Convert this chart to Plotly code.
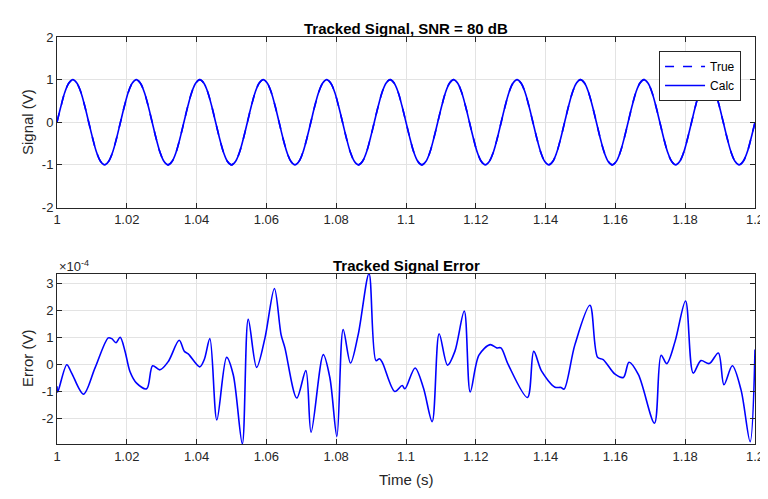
import plotly.graph_objects as go

# ---------------- data ----------------
# Tracked signal, read at sixteenth-period points off the picture (one row per period)
t_sig = [
    1.00000, 1.00114, 1.00227, 1.00341, 1.00455, 1.00568, 1.00682, 1.00795, 1.00909, 1.01023, 1.01136, 1.01250, 1.01364, 1.01477, 1.01591, 1.01705,
    1.01818, 1.01932, 1.02045, 1.02159, 1.02273, 1.02386, 1.02500, 1.02614, 1.02727, 1.02841, 1.02955, 1.03068, 1.03182, 1.03295, 1.03409, 1.03523,
    1.03636, 1.03750, 1.03864, 1.03977, 1.04091, 1.04205, 1.04318, 1.04432, 1.04545, 1.04659, 1.04773, 1.04886, 1.05000, 1.05114, 1.05227, 1.05341,
    1.05455, 1.05568, 1.05682, 1.05795, 1.05909, 1.06023, 1.06136, 1.06250, 1.06364, 1.06477, 1.06591, 1.06705, 1.06818, 1.06932, 1.07045, 1.07159,
    1.07273, 1.07386, 1.07500, 1.07614, 1.07727, 1.07841, 1.07955, 1.08068, 1.08182, 1.08295, 1.08409, 1.08523, 1.08636, 1.08750, 1.08864, 1.08977,
    1.09091, 1.09205, 1.09318, 1.09432, 1.09545, 1.09659, 1.09773, 1.09886, 1.10000, 1.10114, 1.10227, 1.10341, 1.10455, 1.10568, 1.10682, 1.10795,
    1.10909, 1.11023, 1.11136, 1.11250, 1.11364, 1.11477, 1.11591, 1.11705, 1.11818, 1.11932, 1.12045, 1.12159, 1.12273, 1.12386, 1.12500, 1.12614,
    1.12727, 1.12841, 1.12955, 1.13068, 1.13182, 1.13295, 1.13409, 1.13523, 1.13636, 1.13750, 1.13864, 1.13977, 1.14091, 1.14205, 1.14318, 1.14432,
    1.14545, 1.14659, 1.14773, 1.14886, 1.15000, 1.15114, 1.15227, 1.15341, 1.15455, 1.15568, 1.15682, 1.15795, 1.15909, 1.16023, 1.16136, 1.16250,
    1.16364, 1.16477, 1.16591, 1.16705, 1.16818, 1.16932, 1.17045, 1.17159, 1.17273, 1.17386, 1.17500, 1.17614, 1.17727, 1.17841, 1.17955, 1.18068,
    1.18182, 1.18295, 1.18409, 1.18523, 1.18636, 1.18750, 1.18864, 1.18977, 1.19091, 1.19205, 1.19318, 1.19432, 1.19545, 1.19659, 1.19773, 1.19886,
    1.20000]
sig_calc = [
    0, 0.38, 0.71, 0.92, 1, 0.92, 0.71, 0.38, 0, -0.38, -0.71, -0.92, -1, -0.92, -0.71, -0.38,
    0, 0.38, 0.71, 0.92, 1, 0.92, 0.71, 0.38, 0, -0.38, -0.71, -0.92, -1, -0.92, -0.71, -0.38,
    0, 0.38, 0.71, 0.92, 1, 0.92, 0.71, 0.38, 0, -0.38, -0.71, -0.92, -1, -0.92, -0.71, -0.38,
    0, 0.38, 0.71, 0.92, 1, 0.92, 0.71, 0.38, 0, -0.38, -0.71, -0.92, -1, -0.92, -0.71, -0.38,
    0, 0.38, 0.71, 0.92, 1, 0.92, 0.71, 0.38, 0, -0.38, -0.71, -0.92, -1, -0.92, -0.71, -0.38,
    0, 0.38, 0.71, 0.92, 1, 0.92, 0.71, 0.38, 0, -0.38, -0.71, -0.92, -1, -0.92, -0.71, -0.38,
    0, 0.38, 0.71, 0.92, 1, 0.92, 0.71, 0.38, 0, -0.38, -0.71, -0.92, -1, -0.92, -0.71, -0.38,
    0, 0.38, 0.71, 0.92, 1, 0.92, 0.71, 0.38, 0, -0.38, -0.71, -0.92, -1, -0.92, -0.71, -0.38,
    0, 0.38, 0.71, 0.92, 1, 0.92, 0.71, 0.38, 0, -0.38, -0.71, -0.92, -1, -0.92, -0.71, -0.38,
    0, 0.38, 0.71, 0.92, 1, 0.92, 0.71, 0.38, 0, -0.38, -0.71, -0.92, -1, -0.92, -0.71, -0.38,
    0, 0.38, 0.71, 0.92, 1, 0.92, 0.71, 0.38, 0, -0.38, -0.71, -0.92, -1, -0.92, -0.71, -0.38,
    0]
sig_true = list(sig_calc)

# Tracked signal error, in units of 1e-4 V
t_err = [1.0000, 1.0002, 1.0028, 1.0042, 1.0076, 1.0109, 1.0147, 1.0157,
         1.0169, 1.0181, 1.0195, 1.0209, 1.0228, 1.0257, 1.0274, 1.0295,
         1.0319, 1.0350, 1.0365, 1.0376, 1.0409, 1.0422, 1.0438, 1.0458,
         1.0486, 1.0505, 1.0531, 1.0548, 1.0572, 1.0596, 1.0623, 1.0642,
         1.0653, 1.0687, 1.0713, 1.0728, 1.0763, 1.0782, 1.0802, 1.0820,
         1.0841, 1.0863, 1.0894, 1.0914, 1.0924, 1.0933, 1.0968, 1.0989,
         1.0997, 1.1026, 1.1050, 1.1075, 1.1095, 1.1119, 1.1140, 1.1167,
         1.1184, 1.1209, 1.1241, 1.1260, 1.1272, 1.1293, 1.1348, 1.1366,
         1.1389, 1.1427, 1.1444, 1.1453, 1.1484, 1.1527, 1.1549, 1.1565,
         1.1599, 1.1623, 1.1639, 1.1666, 1.1712, 1.1731, 1.1747, 1.1771,
         1.1801, 1.1823, 1.1845, 1.1869, 1.1895, 1.1911, 1.1935, 1.1960,
         1.1986, 1.2000]
err_e4 = [-0.80, -1.01, 0.00, -0.31, -1.09, -0.12, 0.99, 0.96,
          0.81, 1.01, 0.49, -0.25, -0.68, -0.89, -0.04, -0.19,
          0.12, 0.90, 0.49, 0.40, -0.08, 0.19, 0.96, -2.04,
          0.27, -0.37, -2.92, 1.67, -0.10, 0.99, 2.81, 1.11,
          0.62, -1.23, -0.22, -2.49, 0.37, -0.49, -2.65, 1.30,
          0.06, 1.11, 3.36, 0.15, 0.22, 0.06, -0.99, -0.77,
          -0.89, -0.12, -0.86, -2.10, 1.14, -0.02, 0.49, 1.98,
          -1.01, 0.35, 0.74, 0.62, 0.62, 0.00, -1.21, 0.49,
          -0.25, -0.83, -0.84, -0.90, 0.74, 2.19, 0.27, 0.19,
          -0.35, -0.47, 0.09, -0.37, -2.16, 0.35, 0.04, 0.86,
          2.35, -0.31, 0.15, 0.04, 0.43, -0.74, -0.04, -0.93,
          -2.84, 0.56]

x_ticks = [1.0, 1.02, 1.04, 1.06, 1.08, 1.1, 1.12, 1.14, 1.16, 1.18, 1.2]
x_ticklabels = ["1", "1.02", "1.04", "1.06", "1.08", "1.1", "1.12", "1.14", "1.16", "1.18", "1.2"]
y1_ticks = [-2, -1, 0, 1, 2]
y1_ticklabels = ["-2", "-1", "0", "1", "2"]
y2_ticks = [-2, -1, 0, 1, 2, 3]
y2_ticklabels = ["-2", "-1", "0", "1", "2", "3"]

# ---------------- figure ----------------
FONT = "Liberation Sans, Arial, Helvetica, sans-serif"
AX = "#262626"
GRID = "#e3e3e3"

fig = go.Figure()
fig.add_trace(go.Scatter(x=t_sig, y=sig_true, mode="lines", name="True",
                         line=dict(color="#0000ff", width=1.6, dash="dash", shape="spline", smoothing=1.0),
                         xaxis="x", yaxis="y"))
fig.add_trace(go.Scatter(x=t_sig, y=sig_calc, mode="lines", name="Calc",
                         line=dict(color="#0000ff", width=1.6, shape="spline", smoothing=1.0),
                         xaxis="x", yaxis="y"))
fig.add_trace(go.Scatter(x=t_err, y=err_e4, mode="lines", name="Error", showlegend=False,
                         line=dict(color="#0000ff", width=1.6, shape="spline", smoothing=0.9),
                         xaxis="x2", yaxis="y2"))

axis_common = dict(showline=True, linecolor=AX, linewidth=1, mirror="ticks",
                   ticks="inside", ticklen=5, tickcolor=AX, tickwidth=1,
                   showgrid=True, gridcolor=GRID, gridwidth=1, zeroline=False,
                   automargin=False,
                   tickfont=dict(family=FONT, size=13, color=AX))

# page body has an 8px margin, so the figure is 760x483 placed at (8, 8)
fig.update_layout(
    width=760, height=483,
    paper_bgcolor="white", plot_bgcolor="white",
    margin=dict(l=49, r=13, t=29, b=47),
    font=dict(family=FONT, color=AX),
    xaxis=dict(domain=[0, 1], anchor="y", range=[1.0, 1.2], tickvals=x_ticks,
               ticktext=x_ticklabels, **axis_common),
    yaxis=dict(domain=[0.581, 1], anchor="x", range=[-2, 2], tickvals=y1_ticks,
               ticktext=y1_ticklabels, **axis_common),
    xaxis2=dict(domain=[0, 1], anchor="y2", range=[1.0, 1.2], tickvals=x_ticks,
                ticktext=x_ticklabels, **axis_common),
    yaxis2=dict(domain=[0, 0.4184], anchor="x2", range=[-2.926, 3.356], tickvals=y2_ticks,
                ticktext=y2_ticklabels, **axis_common),
    showlegend=True,
    legend=dict(x=0.98, y=0.9656, xanchor="right", yanchor="top",
                bgcolor="white", bordercolor=AX, borderwidth=1,
                font=dict(family=FONT, size=12, color="#000000"),
                tracegroupgap=0, itemwidth=40),
)

annotations = [
    dict(text="<b>Tracked Signal, SNR = 80 dB</b>", x=0.5, y=1.022, xref="paper", yref="paper",
         xanchor="center", yanchor="middle", showarrow=False, font=dict(family=FONT, size=15, color="#000000")),
    dict(text="<b>Tracked Signal Error</b>", x=0.5, y=0.4398, xref="paper", yref="paper",
         xanchor="center", yanchor="middle", showarrow=False, font=dict(family=FONT, size=15, color="#000000")),
    dict(text="×10<sup>-4</sup>", x=0.0, y=0.437, xref="paper", yref="paper",
         xanchor="left", yanchor="middle", showarrow=False, font=dict(family=FONT, size=13, color=AX)),
    dict(text="Signal (V)", x=-0.043, y=0.791, xref="paper", yref="paper", textangle=-90,
         xanchor="center", yanchor="middle", showarrow=False, font=dict(family=FONT, size=15, color=AX)),
    dict(text="Error (V)", x=-0.043, y=0.2113, xref="paper", yref="paper", textangle=-90,
         xanchor="center", yanchor="middle", showarrow=False, font=dict(family=FONT, size=15, color=AX)),
    dict(text="Time (s)", x=0.5, y=-0.086, xref="paper", yref="paper",
         xanchor="center", yanchor="middle", showarrow=False, font=dict(family=FONT, size=15, color=AX)),
]
fig.update_layout(annotations=annotations)

fig.write_html("out.html")
